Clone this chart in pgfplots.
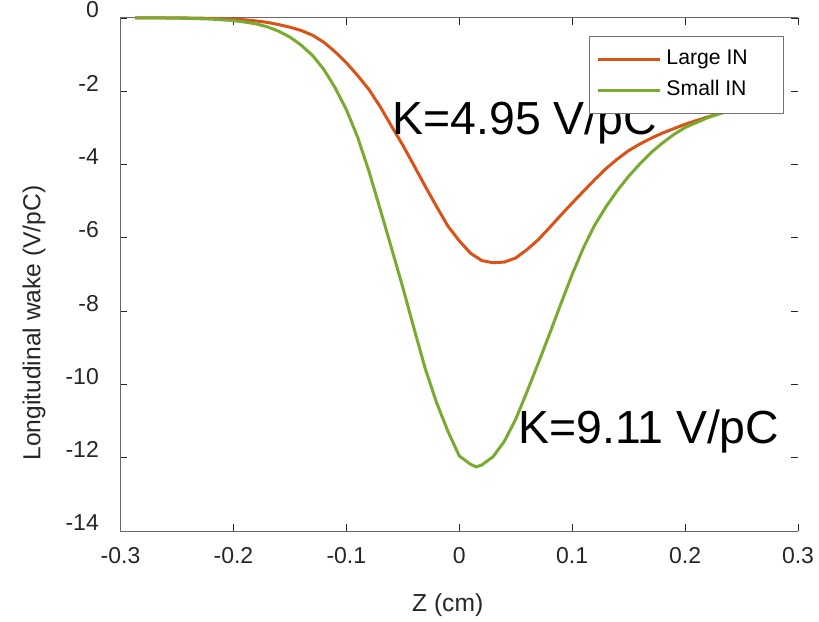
\documentclass[border=0pt]{standalone}
\usepackage{pgfplots}
\pgfplotsset{compat=1.18}
\usepackage{fontspec}
\setmainfont{Liberation Sans}

\definecolor{largeIN}{HTML}{D95319}
\definecolor{smallIN}{HTML}{77AC30}
\definecolor{axcol}{HTML}{262626}

% wake potentials, Z in cm, W in V/pC
\pgfplotstableread{
z      w
-0.287 0
-0.26  0
-0.24  0
-0.22  -0.01
-0.20  -0.03
-0.19  -0.05
-0.18  -0.08
-0.17  -0.12
-0.16  -0.18
-0.15  -0.25
-0.14  -0.34
-0.13  -0.47
-0.12  -0.66
-0.11  -0.92
-0.10  -1.22
-0.09  -1.57
-0.08  -1.95
-0.07  -2.42
-0.06  -2.95
-0.05  -3.47
-0.04  -4.03
-0.03  -4.60
-0.02  -5.15
-0.01  -5.68
0.00   -6.08
0.01   -6.42
0.02   -6.62
0.03   -6.68
0.04   -6.66
0.05   -6.55
0.06   -6.32
0.07   -6.05
0.08   -5.72
0.09   -5.38
0.10   -5.05
0.11   -4.73
0.12   -4.41
0.13   -4.11
0.14   -3.85
0.15   -3.62
0.16   -3.44
0.17   -3.28
0.18   -3.14
0.19   -3.02
0.20   -2.90
0.22   -2.70
0.24   -2.52
0.26   -2.36
0.28   -2.22
}\largetab

\pgfplotstableread{
z      w
-0.287 0
-0.26  0
-0.24  -0.01
-0.22  -0.03
-0.20  -0.07
-0.19  -0.11
-0.18  -0.16
-0.17  -0.24
-0.16  -0.36
-0.15  -0.52
-0.14  -0.74
-0.13  -1.02
-0.12  -1.40
-0.11  -1.90
-0.10  -2.50
-0.09  -3.25
-0.08  -4.18
-0.07  -5.22
-0.06  -6.28
-0.05  -7.35
-0.04  -8.48
-0.03  -9.58
-0.02  -10.50
-0.01  -11.28
0.00   -11.95
0.01   -12.18
0.015  -12.25
0.02   -12.20
0.03   -11.97
0.04   -11.55
0.05   -10.95
0.06   -10.20
0.07   -9.42
0.08   -8.62
0.09   -7.80
0.10   -7.00
0.11   -6.27
0.12   -5.65
0.13   -5.15
0.14   -4.71
0.15   -4.32
0.16   -3.98
0.17   -3.67
0.18   -3.41
0.19   -3.18
0.20   -2.99
0.22   -2.72
0.24   -2.52
0.26   -2.36
0.28   -2.22
}\smalltab

\begin{document}
\begin{tikzpicture}
\begin{axis}[
  name=ax,
  at={(0,0)}, anchor=south west,
  scale only axis,
  width=338.75pt, height=256.5pt,
  xmin=-0.3, xmax=0.3, ymin=-14, ymax=0,
  clip=false,
  axis line style={draw=none},
  xtick={-0.3,-0.2,-0.1,0,0.1,0.2,0.3},
  xticklabels={-0.3,-0.2,-0.1,0,0.1,0.2,0.3},
  ytick={-14,-12,-10,-8,-6,-4,-2,0},
  yticklabels={-14,-12,-10,-8,-6,-4,-2,0},
  tick align=inside,
  major tick length=3.5pt,
  tick style={color=axcol, line width=0.45pt},
  ticklabel style={font=\fontsize{11.5}{13}\selectfont, text=axcol},
  xticklabel style={yshift=-4.5pt},
  yticklabel style={xshift=-7.3pt, yshift=4pt},
  /pgf/number format/assume math mode=true,
  xlabel={Z (cm)},
  ylabel={Longitudinal wake (V/pC)},
  label style={font=\fontsize{12.3}{14}\selectfont, text=axcol},
  xlabel style={at={(axis description cs:0.483,-0.1442)}, anchor=center},
  ylabel style={at={(axis description cs:-0.1277,0.4055)}, anchor=center},
  legend image code/.code={\draw[#1] (0pt,0pt) -- (31pt,0pt);},
  legend style={
    at={(axis description cs:0.9793,0.9649)}, anchor=north east,
    draw=black!55, line width=0.5pt, fill=white,
    font=\fontsize{10.6}{12}\selectfont,
    inner xsep=3.5pt, inner ysep=6.5pt,
    row sep=5.7pt,
    nodes={inner sep=0pt, text height=7.6pt, text depth=2.2pt},
    cells={anchor=west},
  },
]
% box outline without the right edge
\draw[axcol!70, line width=0.5pt] (rel axis cs:1,1) -- (rel axis cs:0,1) -- (rel axis cs:0,0) -- (rel axis cs:1,0);

\addplot[color=largeIN, line width=1.5pt] table[x=z, y=w] {\largetab};
\addlegendentry{\hspace{2.5pt}\makebox[55pt][l]{Large IN}}
\addplot[color=smallIN, line width=1.5pt] table[x=z, y=w] {\smalltab};
\addlegendentry{\hspace{2.5pt}\makebox[55pt][l]{Small IN}}

\node[anchor=base west, inner sep=0pt, font=\fontsize{23.2}{27}\selectfont] at (axis cs:-0.0595,-3.19) {K=4.95 V/pC};
\node[anchor=base west, inner sep=0pt, font=\fontsize{23.2}{27}\selectfont] at (axis cs:0.052,-11.6) {K=9.11 V/pC};
\end{axis}
\pgfresetboundingbox
\path[use as bounding box] (-60.25pt,-45pt) rectangle (349.25pt,265.5pt);
\end{tikzpicture}
\end{document}
